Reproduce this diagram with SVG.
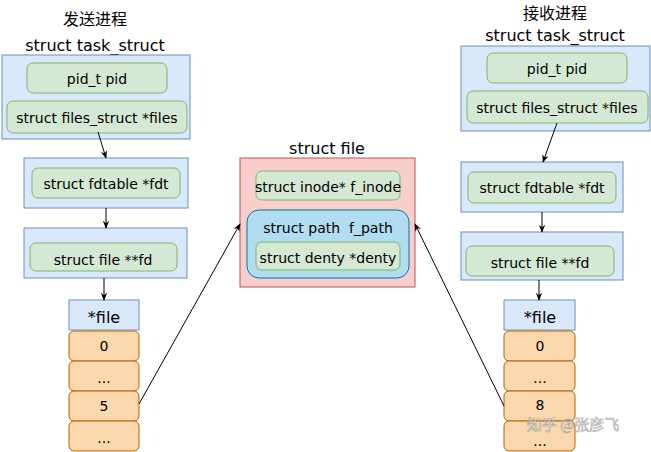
<svg xmlns="http://www.w3.org/2000/svg" width="651" height="452" viewBox="0 0 651 452">
<style>
text{font-family:"DejaVu Sans","Noto Sans CJK SC",sans-serif;fill:#000;text-anchor:middle;dominant-baseline:central}
.cn{font-family:"Noto Sans CJK SC",sans-serif;font-size:16px}
.t{font-size:16px}
.l{font-size:14px}
.blue{fill:#dae8fc;stroke:#6c8ebf;stroke-width:1}
.green{fill:#d5e8d4;stroke:#82b366;stroke-width:1}
.orange{fill:#fad7ac;stroke:#b46504;stroke-width:1}
.red{fill:#f8cecc;stroke:#b85450;stroke-width:1}
.path{fill:#b1ddf0;stroke:#10739e;stroke-width:1}
.c{stroke:#000;stroke-width:1;fill:none}
.wm{font-family:"Noto Sans CJK SC",sans-serif;font-size:15px;fill:#fff;stroke:#999;stroke-width:0.6;opacity:0.9}
</style>
<defs>
<marker id="arr" viewBox="0 0 10 10" refX="9" refY="5" markerWidth="8" markerHeight="8" orient="auto" markerUnits="userSpaceOnUse">
<path d="M0,1 L10,5 L0,9 L3,5 z" fill="#000"/>
</marker>
</defs>

<!-- Left: sending process -->
<g id="send-title"><text class="cn" x="95" y="18">发送进程</text></g>
<g id="send-task">
<text class="t" x="95" y="45">struct task_struct</text>
<rect class="blue" x="2" y="55" width="188" height="84"/>
<rect class="green" x="27" y="63" width="140" height="30" rx="6"/>
<text class="l" x="97" y="79">pid_t pid</text>
<rect class="green" x="7" y="101" width="180" height="32" rx="6"/>
<text class="l" x="97" y="118">struct files_struct *files</text>
</g>
<g id="send-fdtable">
<rect class="blue" x="24" y="158" width="164" height="50"/>
<rect class="green" x="32" y="168" width="148" height="30" rx="6"/>
<text class="l" x="106" y="184">struct fdtable *fdt</text>
</g>
<g id="send-fd">
<rect class="blue" x="24" y="228" width="163" height="50"/>
<rect class="green" x="30" y="243" width="147" height="28" rx="6"/>
<text class="l" x="103" y="260">struct file **fd</text>
</g>
<g id="send-array">
<rect class="blue" x="69" y="300" width="70" height="30"/>
<text class="t" x="104" y="317">*file</text>
<rect class="orange" x="69" y="331" width="70" height="30" rx="5"/>
<text class="l" x="104" y="346">0</text>
<rect class="orange" x="69" y="361" width="70" height="30" rx="5"/>
<text class="l" x="104" y="378">...</text>
<rect class="orange" x="69" y="391" width="70" height="30" rx="5"/>
<text class="l" x="104" y="406">5</text>
<rect class="orange" x="69" y="421" width="70" height="30" rx="5"/>
<text class="l" x="104" y="438">...</text>
</g>

<!-- Center: struct file -->
<g id="file">
<text class="t" x="327" y="148">struct file</text>
<rect class="red" x="240" y="158" width="175" height="129"/>
<rect class="green" x="256" y="171" width="144" height="29" rx="6"/>
<text class="l" x="328" y="187">struct inode* f_inode</text>
<rect class="path" x="247" y="210" width="162" height="68" rx="12"/>
<text class="l" x="328" y="228" xml:space="preserve">struct path  f_path</text>
<rect class="green" x="256" y="242" width="144" height="28" rx="6"/>
<text class="l" x="328" y="258">struct denty *denty</text>
</g>

<!-- Right: receiving process -->
<g id="recv-title"><text class="cn" x="555" y="12">接收进程</text></g>
<g id="recv-task">
<text class="t" x="555" y="35">struct task_struct</text>
<rect class="blue" x="461" y="46" width="189" height="85"/>
<rect class="green" x="487" y="53" width="140" height="30" rx="6"/>
<text class="l" x="557" y="69">pid_t pid</text>
<rect class="green" x="467" y="91" width="181" height="32" rx="6"/>
<text class="l" x="557" y="108">struct files_struct *files</text>
</g>
<g id="recv-fdtable">
<rect class="blue" x="461" y="162" width="162" height="50"/>
<rect class="green" x="468" y="172" width="148" height="31" rx="6"/>
<text class="l" x="542" y="188">struct fdtable *fdt</text>
</g>
<g id="recv-fd">
<rect class="blue" x="461" y="232" width="162" height="48"/>
<rect class="green" x="466" y="246" width="148" height="30" rx="6"/>
<text class="l" x="540" y="263">struct file **fd</text>
</g>
<g id="recv-array">
<rect class="blue" x="504" y="300" width="71" height="30"/>
<text class="t" x="540" y="317">*file</text>
<rect class="orange" x="504" y="331" width="71" height="30" rx="5"/>
<text class="l" x="540" y="346">0</text>
<rect class="orange" x="504" y="361" width="71" height="30" rx="5"/>
<text class="l" x="540" y="378">...</text>
<rect class="orange" x="504" y="391" width="71" height="30" rx="5"/>
<text class="l" x="540" y="405">8</text>
<rect class="orange" x="504" y="421" width="71" height="30" rx="5"/>
<text class="l" x="540" y="441">...</text>
</g>

<g id="connectors">
<line class="c" x1="98" y1="132" x2="106" y2="158" marker-end="url(#arr)"/>
<line class="c" x1="106" y1="208" x2="106" y2="228" marker-end="url(#arr)"/>
<line class="c" x1="104" y1="278" x2="104" y2="300" marker-end="url(#arr)"/>
<line class="c" x1="139" y1="404" x2="240" y2="224" marker-end="url(#arr)"/>
<line class="c" x1="557" y1="123" x2="543" y2="162" marker-end="url(#arr)"/>
<line class="c" x1="542" y1="212" x2="542" y2="232" marker-end="url(#arr)"/>
<line class="c" x1="539" y1="280" x2="539" y2="300" marker-end="url(#arr)"/>
<line class="c" x1="504" y1="406" x2="415" y2="224" marker-end="url(#arr)"/>
</g>

<g id="watermark"><text class="wm" x="573" y="423">知乎 @张彦飞</text></g>
</svg>
